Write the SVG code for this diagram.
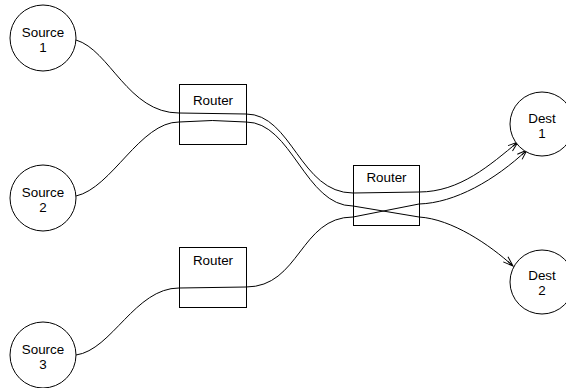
<svg xmlns="http://www.w3.org/2000/svg" width="566" height="388" viewBox="0 0 566 388">
  <style>
    .node { fill: #fff; stroke: #000; stroke-width: 1; }
    .label { font-family: "Liberation Sans", Arial, sans-serif; font-size: 13.4px; fill: #000; text-anchor: middle; }
    .flow { fill: none; stroke: #000; stroke-width: 1; }
  </style>
  <defs>
    <marker id="arrow" markerUnits="userSpaceOnUse" markerWidth="14" markerHeight="10" viewBox="-12 -5 14 10" refX="0" refY="0" orient="auto">
      <path d="M -10 -3.5 L 0 0 L -10 3.5 M -7 0 L 0 0" fill="none" stroke="#000" stroke-width="1"/>
    </marker>
  </defs>

  <!-- routers are drawn first so the flows run across them -->
  <g id="router1">
    <rect class="node" x="179.5" y="84.5" width="67" height="60"/>
    <text class="label" x="213" y="105">Router</text>
  </g>
  <g id="router2">
    <rect class="node" x="353.5" y="165.5" width="66" height="60"/>
    <text class="label" x="386.5" y="182">Router</text>
  </g>
  <g id="router3">
    <rect class="node" x="179.5" y="247.5" width="67" height="60"/>
    <text class="label" x="213" y="265">Router</text>
  </g>

  <g id="connectors">
    <!-- Source 1 to Dest 1 -->
    <path class="flow" marker-end="url(#arrow)" d="M 76 40 C 110 50, 128 113, 179 113 L 246 114 C 292 114, 300 193, 353 193 L 419 192 C 460 192, 490 165, 518 142"/>
    <!-- Source 2 to Dest 2 -->
    <path class="flow" marker-end="url(#arrow)" d="M 76 196 C 112 188, 140 122, 179 122 Q 212 119, 246 122 C 292 122, 305 206, 353 206 L 419 217 C 452 219, 490 245, 513 266"/>
    <!-- Source 3 to Dest 1 -->
    <path class="flow" marker-end="url(#arrow)" d="M 76 355 C 112 350, 135 288, 179 288 L 246 287 C 300 287, 300 217, 353 217 L 419 204 C 455 203, 495 180, 527 150"/>
  </g>

  <g id="source1">
    <circle class="node" cx="43" cy="38" r="33"/>
    <text class="label" x="43" y="36.5">Source</text>
    <text class="label" x="43" y="51.5">1</text>
  </g>
  <g id="source2">
    <circle class="node" cx="43" cy="198" r="33"/>
    <text class="label" x="43" y="196.5">Source</text>
    <text class="label" x="43" y="211.5">2</text>
  </g>
  <g id="source3">
    <circle class="node" cx="43" cy="355" r="33"/>
    <text class="label" x="43" y="353.5">Source</text>
    <text class="label" x="43" y="368.5">3</text>
  </g>
  <g id="dest1">
    <circle class="node" cx="542" cy="124" r="32"/>
    <text class="label" x="542" y="122.5">Dest</text>
    <text class="label" x="542" y="137.5">1</text>
  </g>
  <g id="dest2">
    <circle class="node" cx="542" cy="282" r="32"/>
    <text class="label" x="542" y="279.5">Dest</text>
    <text class="label" x="542" y="294.5">2</text>
  </g>
</svg>
